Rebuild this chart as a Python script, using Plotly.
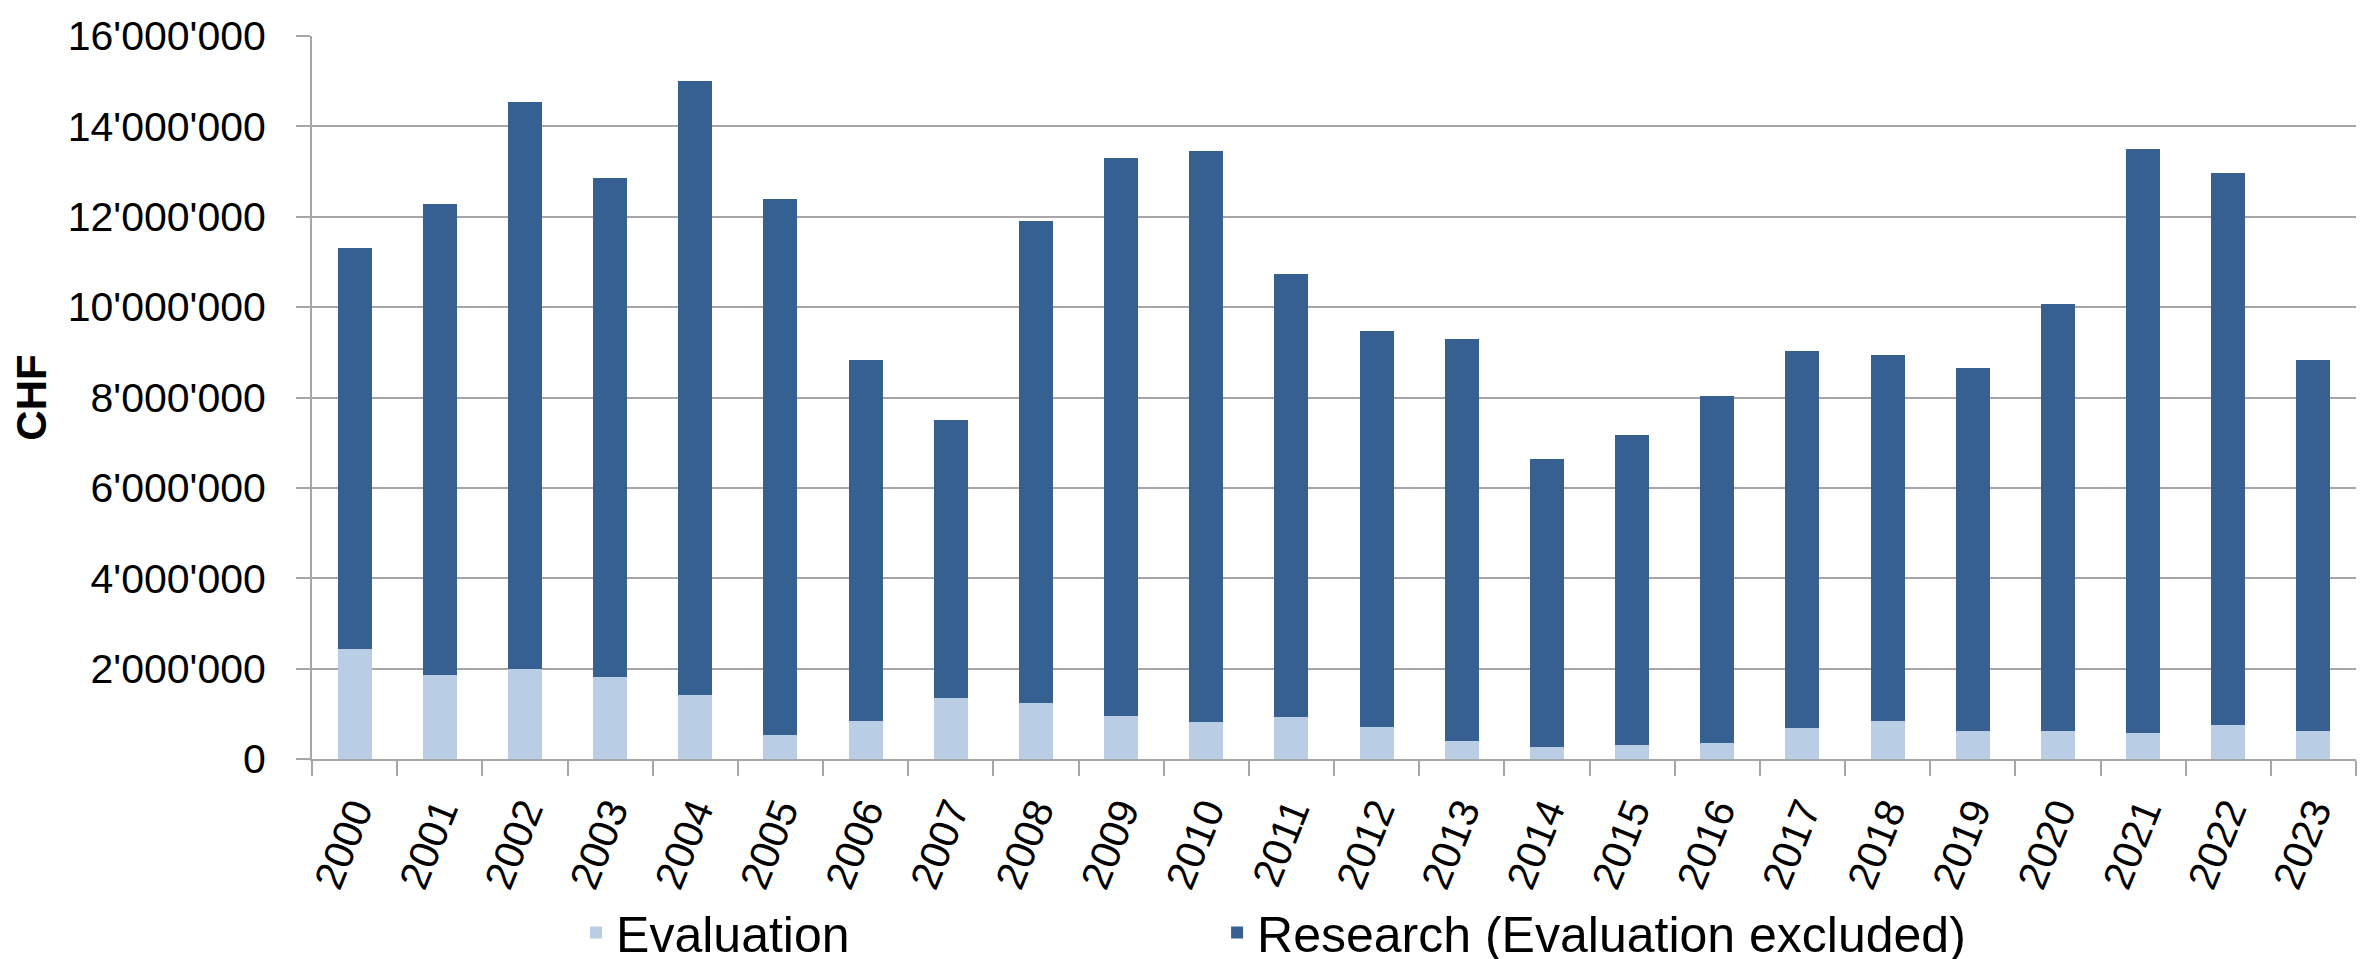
import plotly.graph_objects as go

years = [str(y) for y in range(2000, 2024)]

evaluation = [2440000, 1850000, 1990000, 1820000, 1410000, 540000, 850000, 1340000,
              1240000, 950000, 820000, 920000, 700000, 400000, 260000, 300000,
              360000, 680000, 850000, 610000, 610000, 580000, 750000, 610000]

research = [8860000, 10440000, 12540000, 11030000, 13600000, 11850000, 7970000, 6160000,
            10670000, 12340000, 12640000, 9820000, 8770000, 8900000, 6370000, 6860000,
            7680000, 8340000, 8100000, 8040000, 9450000, 12920000, 12220000, 8230000]

y_ticks = [0, 2000000, 4000000, 6000000, 8000000, 10000000, 12000000, 14000000, 16000000]

LIGHT = "#B9CDE5"
DARK = "#376092"
GRID = "#A6A6A6"
FONT = "Liberation Sans, Arial, sans-serif"

fig = go.Figure()
fig.add_trace(go.Bar(x=years, y=evaluation, name="Evaluation", legend="legend",
                     marker=dict(color=LIGHT, line=dict(width=0))))
fig.add_trace(go.Bar(x=years, y=research, name="Research (Evaluation excluded)", legend="legend2",
                     marker=dict(color=DARK, line=dict(width=0))))

legend_font = dict(size=50, family=FONT, color="black")

fig.update_layout(
    width=2372, height=959,
    barmode="stack", bargap=0.6,
    separators=".'",
    paper_bgcolor="white", plot_bgcolor="white",
    margin=dict(l=304, r=24, t=28, b=208, autoexpand=False),
    font=dict(family=FONT, color="black"),
    showlegend=True,
    legend=dict(orientation="h", x=0.1292, xanchor="left", y=-0.24, yanchor="middle",
                font=legend_font, bgcolor="rgba(0,0,0,0)"),
    legend2=dict(orientation="h", x=0.4428, xanchor="left", y=-0.24, yanchor="middle",
                 font=legend_font, bgcolor="rgba(0,0,0,0)"),
)

fig.update_xaxes(type="category", showline=True, linecolor=GRID, linewidth=2,
                 ticks="outside", tickson="boundaries", ticklen=15, tickwidth=2,
                 tickcolor=GRID, tickangle=-68, ticklabelstandoff=10,
                 tickfont=dict(size=41, family=FONT, color="black"),
                 showgrid=False, automargin=False)

fig.update_yaxes(range=[0, 16000000], tickvals=y_ticks, tickformat=",d",
                 showline=True, linecolor=GRID, linewidth=2,
                 ticks="outside", ticklen=14, tickwidth=2, tickcolor=GRID,
                 ticklabelstandoff=22, automargin=False,
                 showgrid=True, gridcolor=GRID, gridwidth=2, zeroline=False,
                 tickfont=dict(size=41, family=FONT, color="black"),
                 title=dict(text="<b>CHF</b>", font=dict(size=42, family=FONT, color="black"),
                            standoff=15))

fig.write_html("out.html")
